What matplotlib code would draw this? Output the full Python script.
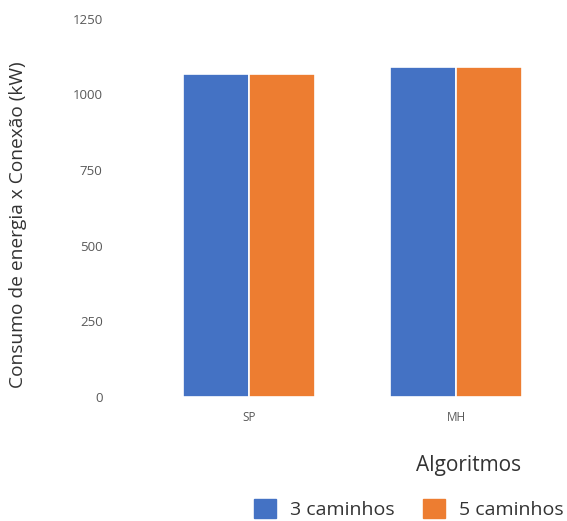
import matplotlib
matplotlib.use("Agg")
import matplotlib.pyplot as plt
from matplotlib.patches import Patch
import numpy as np

plt.rcParams['font.family'] = ['Open Sans', 'DejaVu Sans']

algoritmos = ["SP", "MH"]
caminhos_3 = [1066, 1090]
caminhos_5 = [1066, 1090]
series = ["3 caminhos", "5 caminhos"]
cores = ["#4472C4", "#ED7D31"]

fig = plt.figure(figsize=(5.67, 5.21), dpi=100)
ax = fig.add_axes([0.257, 0.238, 0.730, 0.726])

x = np.arange(len(algoritmos))
w = 0.32
ax.bar(x - w / 2, caminhos_3, width=w, color=cores[0], edgecolor="white", linewidth=1.2)
ax.bar(x + w / 2, caminhos_5, width=w, color=cores[1], edgecolor="white", linewidth=1.2)

ax.set_xlim(-0.5, 1.5)
ax.set_ylim(0, 1250)
ax.set_yticks([0, 250, 500, 750, 1000, 1250])
ax.set_xticks(x)
ax.set_xticklabels(algoritmos)
for s in ax.spines.values():
    s.set_visible(False)
ax.tick_params(axis="y", length=0, pad=31, labelsize=9.5, labelcolor="#595959")
ax.tick_params(axis="x", length=0, pad=10, labelsize=8.5, labelcolor="#595959")

fig.text(0.032, 0.568, "Consumo de energia x Conexão (kW)", rotation=90,
         ha="center", va="center", fontsize=13.8, color="#333333")
fig.text(0.826, 0.107, "Algoritmos", ha="center", va="center",
         fontsize=15, color="#333333")

handles = [Patch(color=c, label=l) for c, l in zip(cores, series)]
fig.legend(handles=handles, loc="center", bbox_to_anchor=(0.721, 0.023),
           ncol=2, frameon=False, fontsize=14, handlelength=1.15,
           handleheight=1.15, columnspacing=1.45, handletextpad=0.7,
           labelcolor="#333333", borderpad=0.2)

fig.savefig("out.png", dpi=100)
